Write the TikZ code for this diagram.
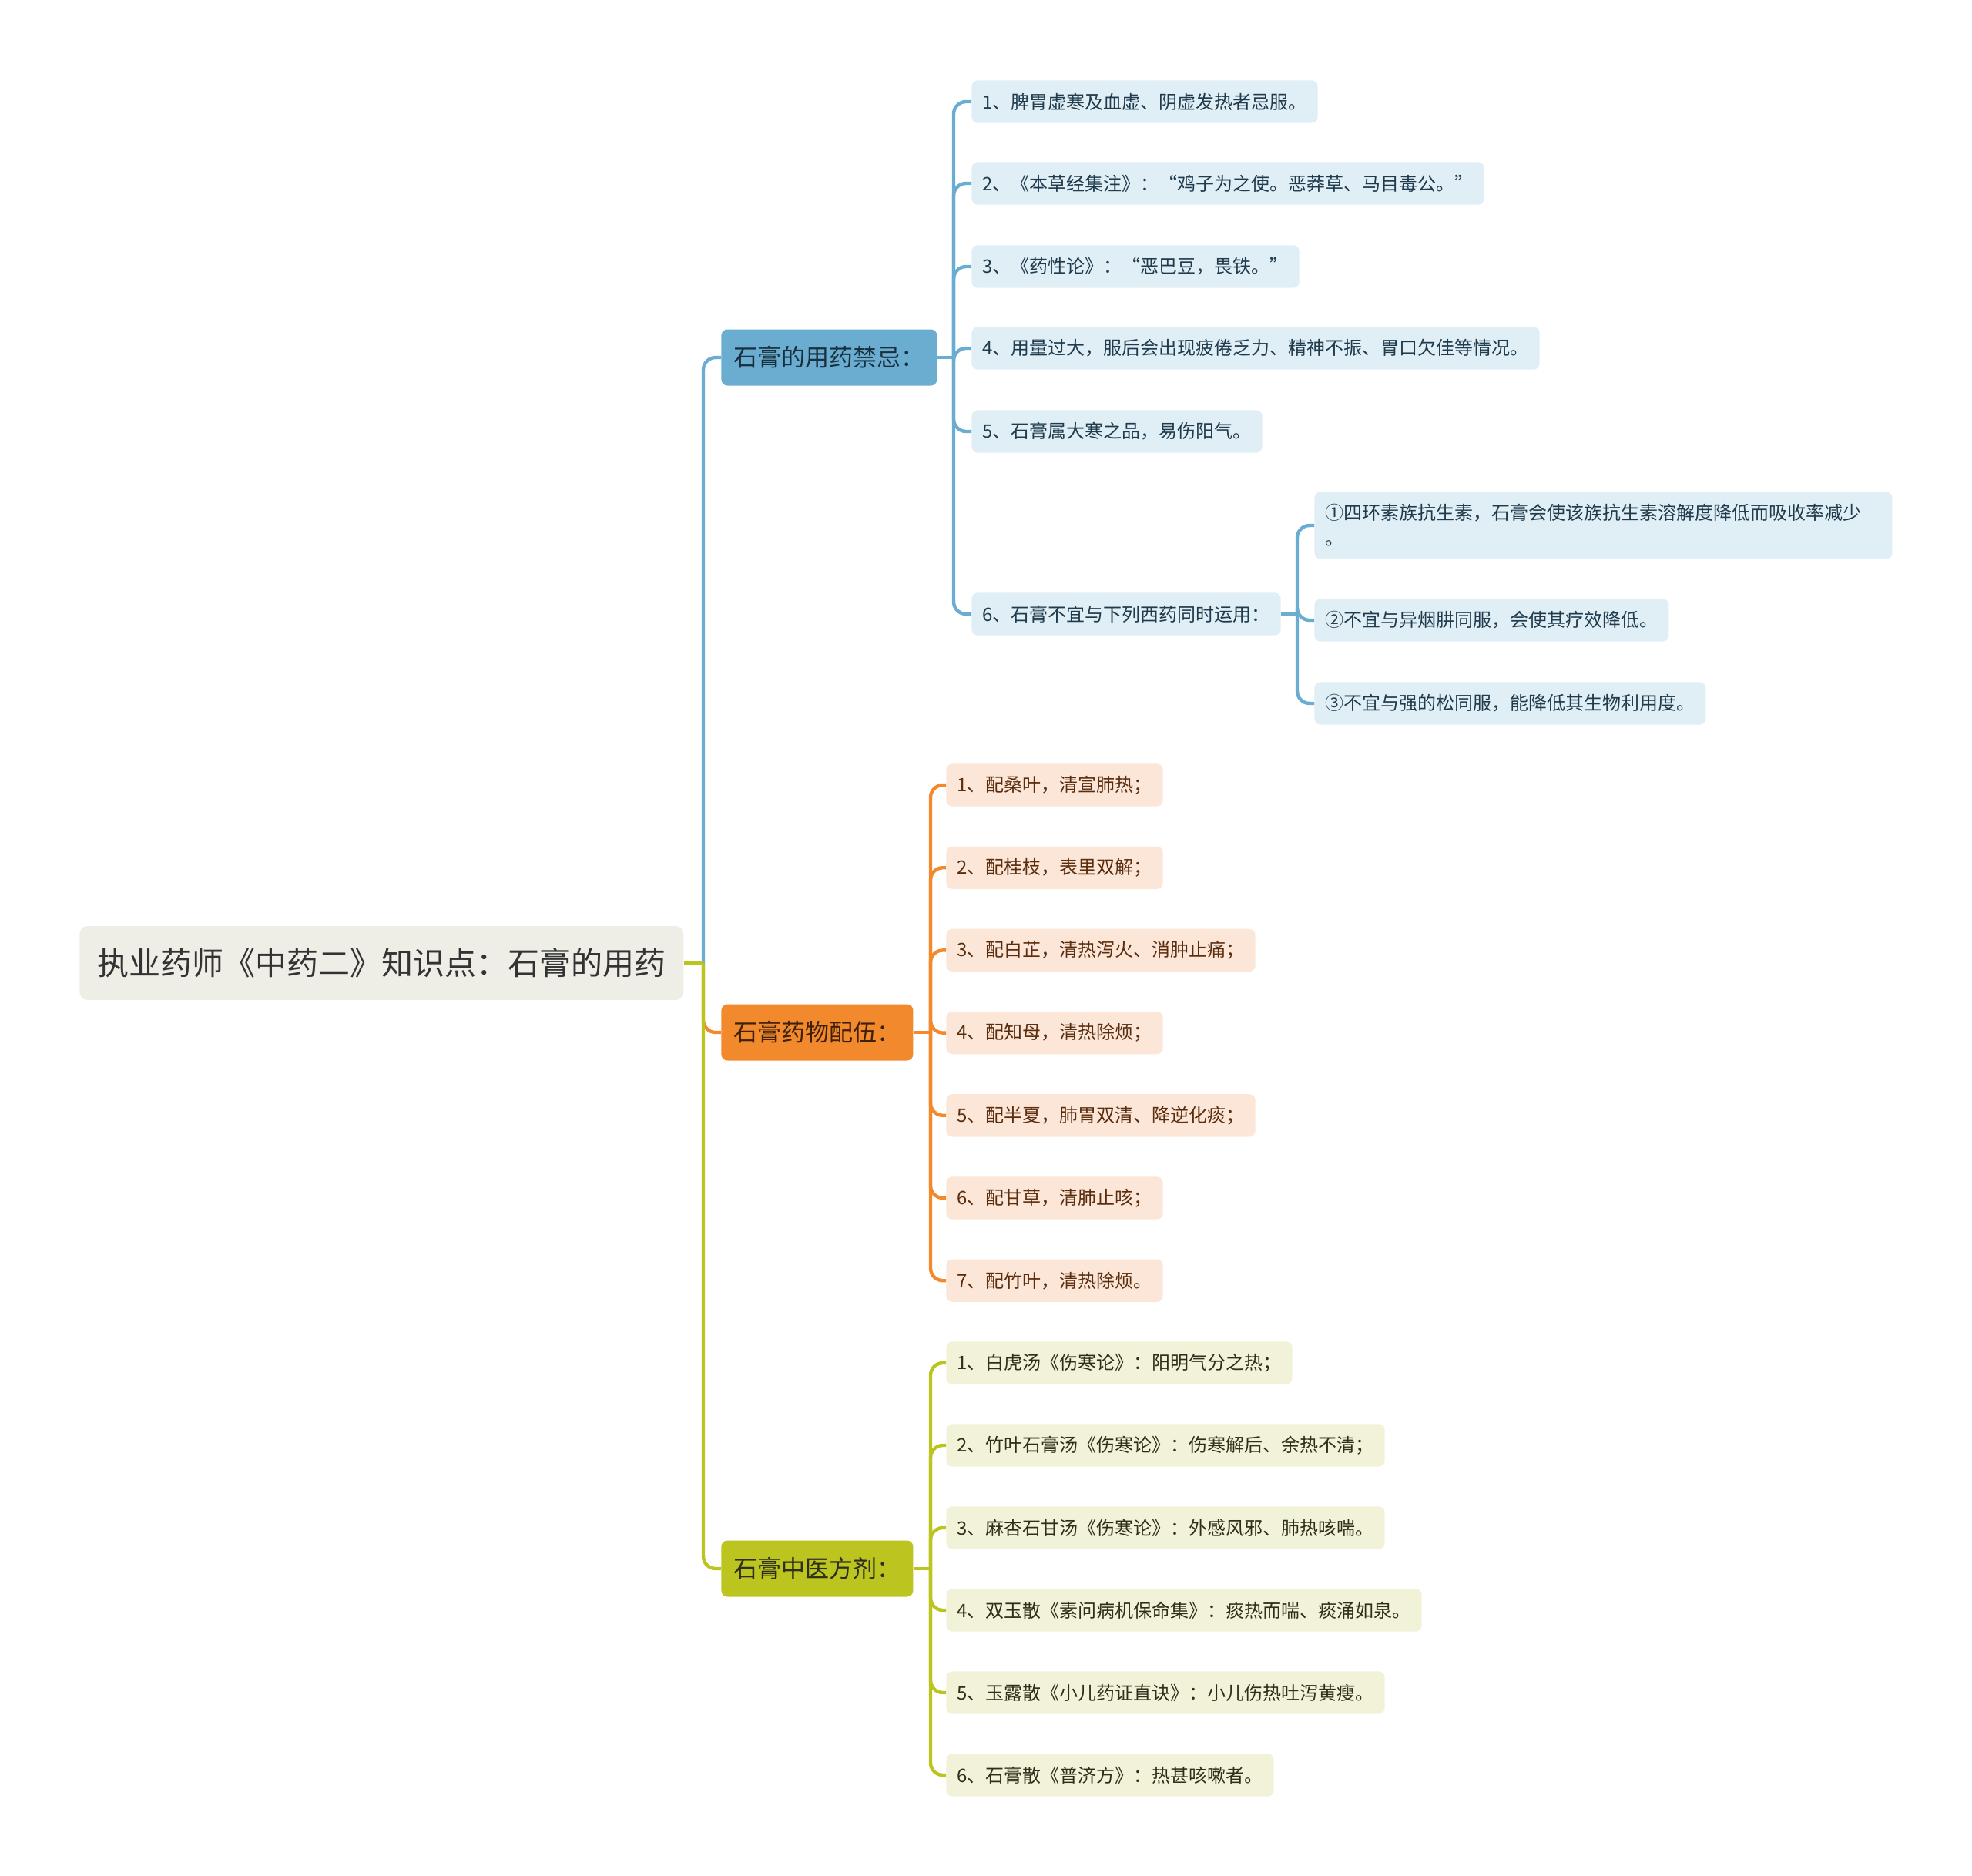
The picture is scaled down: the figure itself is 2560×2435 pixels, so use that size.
\documentclass[tikz,border=0pt]{standalone}
\usepackage{fontspec}
\setmainfont{Noto Sans CJK SC}
\usetikzlibrary{calc}

\definecolor{rootfill}{HTML}{EFEEE6}
\definecolor{bluemain}{HTML}{6AADD1}
\definecolor{bluelite}{HTML}{E0EEF6}
\definecolor{bluetext}{HTML}{1F3B4C}
\definecolor{orgmain}{HTML}{F28A2D}
\definecolor{orglite}{HTML}{FCE6D7}
\definecolor{orgtext}{HTML}{5A2D0E}
\definecolor{olvmain}{HTML}{BCC41F}
\definecolor{olvlite}{HTML}{F1F2D8}
\definecolor{olvtext}{HTML}{2E2E1A}

\begin{document}
\begin{tikzpicture}[x=0.5pt,y=-0.5pt,
  topic/.style={rounded corners=4pt, anchor=west, inner xsep=8pt, inner ysep=0pt,
    minimum height=36.5pt, font=\fontsize{15.5}{18}\selectfont},
  leaf/.style={rounded corners=4pt, anchor=west, inner xsep=7pt, inner ysep=0pt,
    minimum height=27.7pt, font=\fontsize{12}{16.5}\selectfont},
  link/.style={line width=2.2pt, rounded corners=8pt}]
\useasboundingbox (0,0) rectangle (2560,2435);

% centre
\node[fill=rootfill, rounded corners=5pt, anchor=west, inner xsep=11.5pt, minimum height=48pt,
  text=black!80, font=\fontsize{20.5}{24}\selectfont] (root) at (103,1250)
  {执业药师《中药二》知识点：石膏的用药};

% main topics
\node[topic, fill=bluemain, text=bluetext!80!black] (b1) at (936,464) {石膏的用药禁忌：};
\node[topic, fill=orgmain, text=orgtext!70!black] (b2) at (936,1340) {石膏药物配伍：};
\node[topic, fill=olvmain, text=olvtext] (b3) at (936,2036) {石膏中医方剂：};

\coordinate (rj) at (913,1250);
\coordinate (bj1) at (1238,464);
\coordinate (bj2) at (1208,1340);
\coordinate (bj3) at (1208,2036);
\coordinate (dj) at (1684,797);

% contraindications
\node[leaf, fill=bluelite, text=bluetext] (c1) at (1261,132) {1、脾胃虚寒及血虚、阴虚发热者忌服。};
\node[leaf, fill=bluelite, text=bluetext] (c2) at (1261,238) {2、《本草经集注》：“鸡子为之使。恶莽草、马目毒公。”};
\node[leaf, fill=bluelite, text=bluetext] (c3) at (1261,346) {3、《药性论》：“恶巴豆，畏铁。”};
\node[leaf, fill=bluelite, text=bluetext] (c4) at (1261,452) {4、用量过大，服后会出现疲倦乏力、精神不振、胃口欠佳等情况。};
\node[leaf, fill=bluelite, text=bluetext] (c5) at (1261,560) {5、石膏属大寒之品，易伤阳气。};
\node[leaf, fill=bluelite, text=bluetext] (c6) at (1261,797) {6、石膏不宜与下列西药同时运用：};

\node[leaf, fill=bluelite, text=bluetext, align=left, text width=361pt, minimum height=43.5pt] (d1) at (1706,682)
  {①四环素族抗生素，石膏会使该族抗生素溶解度降低而吸收率减少\\。};
\node[leaf, fill=bluelite, text=bluetext] (d2) at (1706,805) {②不宜与异烟肼同服，会使其疗效降低。};
\node[leaf, fill=bluelite, text=bluetext] (d3) at (1706,913) {③不宜与强的松同服，能降低其生物利用度。};

% compatibility
\foreach \t [count=\i] in {1、配桑叶，清宣肺热；, 2、配桂枝，表里双解；,
  3、配白芷，清热泻火、消肿止痛；, 4、配知母，清热除烦；, 5、配半夏，肺胃双清、降逆化痰；,
  6、配甘草，清肺止咳；, 7、配竹叶，清热除烦。}
  \node[leaf, fill=orglite, text=orgtext] (p\i) at (1228,{1019+(\i-1)*107.2}) {\t};

% prescriptions
\foreach \t [count=\i] in {1、白虎汤《伤寒论》：阳明气分之热；, 2、竹叶石膏汤《伤寒论》：伤寒解后、余热不清；,
  3、麻杏石甘汤《伤寒论》：外感风邪、肺热咳喘。, 4、双玉散《素问病机保命集》：痰热而喘、痰涌如泉。,
  5、玉露散《小儿药证直诀》：小儿伤热吐泻黄瘦。, 6、石膏散《普济方》：热甚咳嗽者。}
  \node[leaf, fill=olvlite, text=olvtext] (q\i) at (1228,{1769+(\i-1)*107}) {\t};

% links
\draw[link, bluemain] (rj) |- (b1.west);
\draw[link, orgmain] (rj) |- (b2.west);
\draw[link, olvmain] (rj) |- (b3.west);
\draw[link, olvmain] (root.east) -- (rj);

\draw[link, bluemain] (b1.east) -- (bj1);
\foreach \i in {1,...,6}
  \draw[link, bluemain] (bj1) |- (c\i.west);
\draw[link, bluemain] (c6.east) -- (dj);
\foreach \i in {1,2,3}
  \draw[link, bluemain] (dj) |- (d\i.west);

\draw[link, orgmain] (b2.east) -- (bj2);
\foreach \i in {1,...,7}
  \draw[link, orgmain] (bj2) |- (p\i.west);

\draw[link, olvmain] (b3.east) -- (bj3);
\foreach \i in {1,...,6}
  \draw[link, olvmain] (bj3) |- (q\i.west);
\end{tikzpicture}
\end{document}
